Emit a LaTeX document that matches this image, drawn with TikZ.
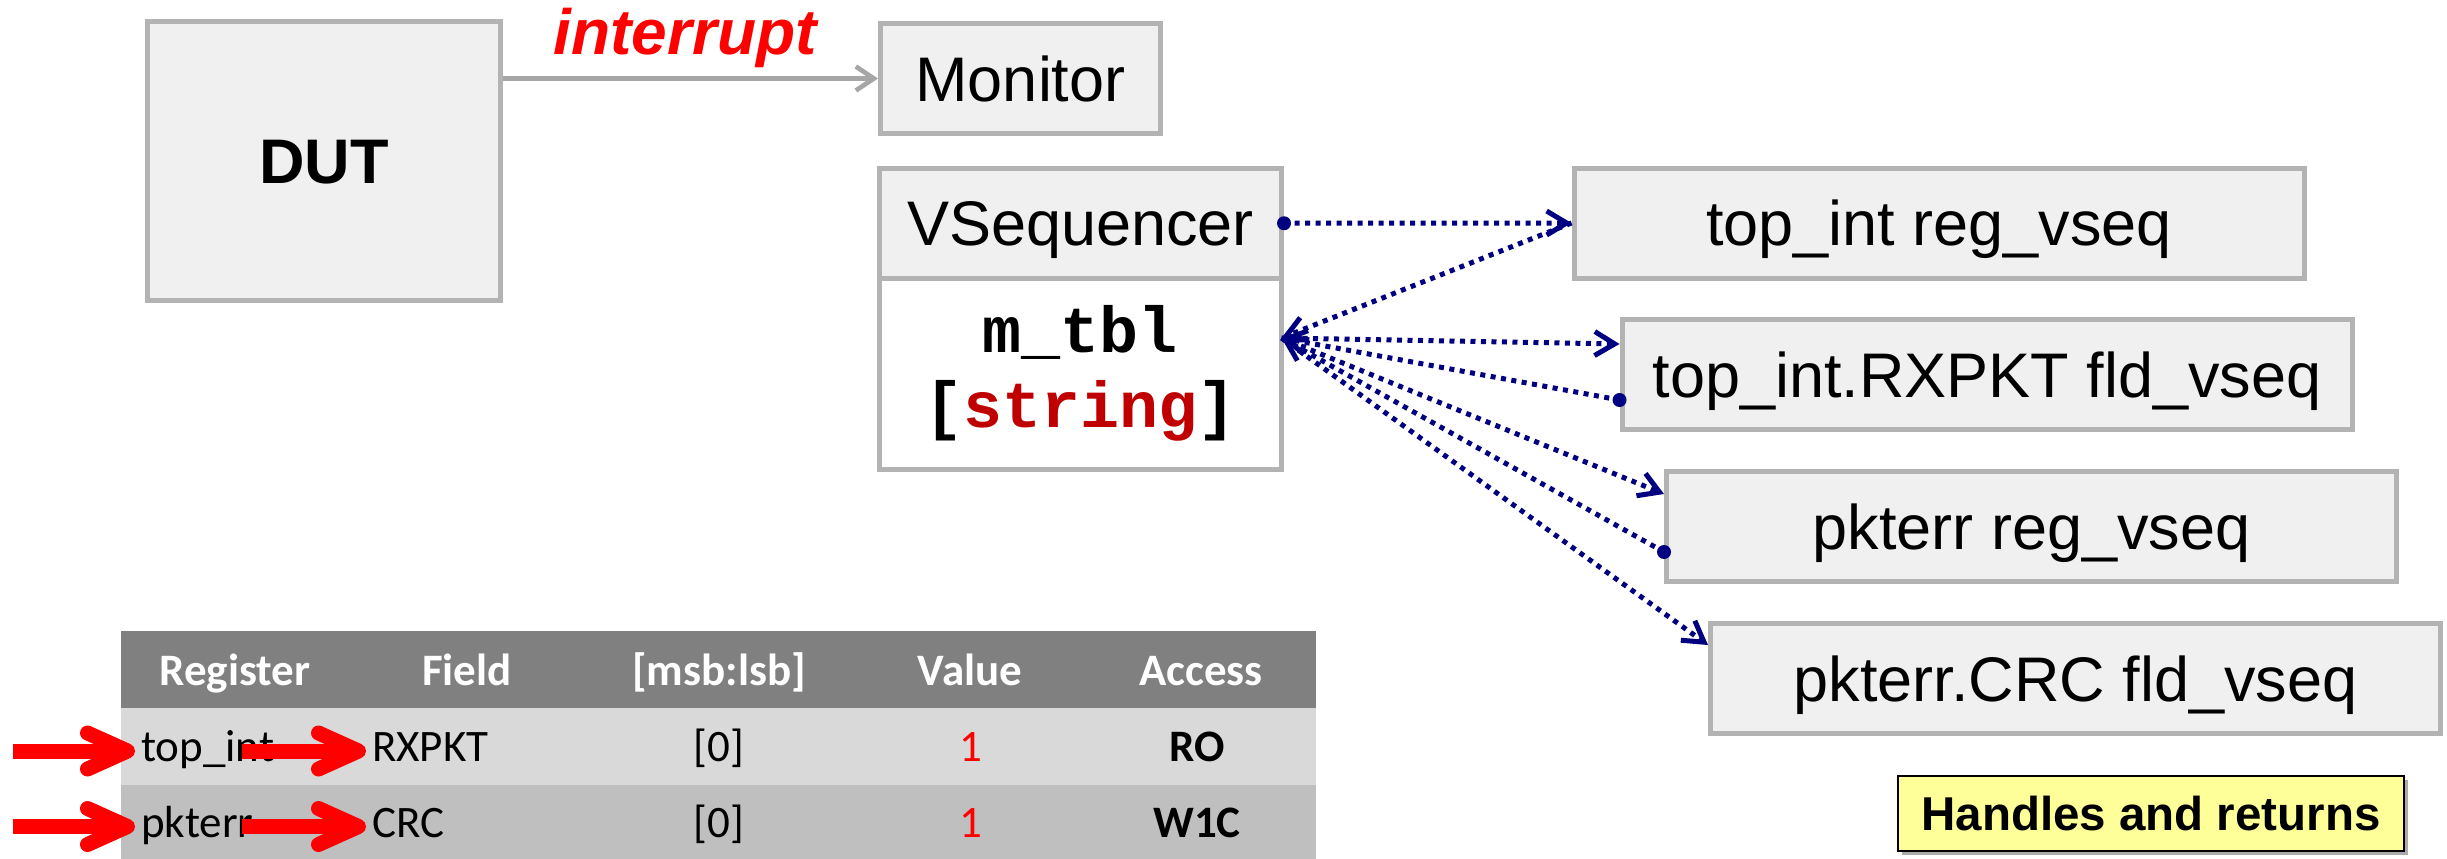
\documentclass[tikz,border=0pt]{standalone}
\usepackage{fontspec}
\setmainfont{Liberation Sans}
\newfontfamily\tablefont{Carlito}
\newfontfamily\codefont{Liberation Mono}
\usetikzlibrary{arrows.meta,calc,shadows}

\definecolor{boxgray}{HTML}{B3B3B3}
\definecolor{boxfill}{HTML}{F0F0F0}
\definecolor{navy}{HTML}{000080}
\definecolor{arrowgray}{HTML}{A6A6A6}
\definecolor{hdrgray}{HTML}{808080}
\definecolor{rowlight}{HTML}{D9D9D9}
\definecolor{rowdark}{HTML}{BFBFBF}
\definecolor{strred}{HTML}{C00000}
\definecolor{noteyellow}{HTML}{FFFF99}

\begin{document}
\begin{tikzpicture}[x=1pt, y=-1pt,
  blk/.style={draw=boxgray, line width=5pt, fill=boxfill, inner sep=0pt,
              text height=45pt, text depth=0pt},
  big/.style={font=\fontsize{63}{75}\selectfont},
  seqbox/.style={blk, big, minimum width=730pt, minimum height=110pt},
  call/.style={navy, line width=5pt, dash pattern=on 5pt off 5.5pt,
               -{Straight Barb[length=20pt, width=24pt]}},
  dotmark/.style={fill=navy},
  th/.style={anchor=base, inner sep=0pt, text=white,
             font=\tablefont\bfseries\fontsize{45}{54}\selectfont},
  tdl/.style={anchor=base west, inner xsep=6pt, inner ysep=0pt,
              font=\tablefont\fontsize{45}{54}\selectfont},
  tdc/.style={anchor=base, inner sep=0pt,
              font=\tablefont\fontsize{45}{54}\selectfont},
  redarrow/.style={red, line width=15pt,
                   -{Straight Barb[round, length=40pt, width=36pt]}}
]
\useasboundingbox (0,0) rectangle (2447,859);

% design under test and monitor
\node[blk, minimum width=353pt, minimum height=279pt,
      font=\fontsize{63}{75}\selectfont\bfseries] (dut) at (324,161) {DUT};
\node[blk, big, minimum width=280pt, minimum height=110pt] (mon) at (1020.5,78.5) {Monitor};
\draw[arrowgray, line width=4.6pt, -{Straight Barb[length=18pt, width=24pt]}]
  (dut.east |- mon.west) -- (mon.west);
\node[anchor=base, inner sep=0pt, text=red,
      font=\fontsize{64}{77}\selectfont\bfseries\itshape] (intr) at (685,55) {interrupt};

% virtual sequencer with its lookup table
\node[draw=boxgray, line width=5pt, fill=white, minimum width=402pt, minimum height=191.5pt,
      align=center, font=\fontsize{65}{75}\selectfont\codefont\bfseries] (mtbl)
      at (1080.5,373.75) {m\_tbl\\{[}\textcolor{strred}{string}]};
\node[blk, big, minimum width=402pt, minimum height=109.5pt] (vseq) at (1080.5,223.25) {VSequencer};

% register and field sequences
\node[seqbox] (b1) at (1939,223)     {top\_int reg\_vseq};
\node[seqbox] (b2) at (1987,374.5)   {top\_int.RXPKT fld\_vseq};
\node[seqbox] (b3) at (2031.5,526.5) {pkterr reg\_vseq};
\node[seqbox] (b4) at (2075.5,678.5) {pkterr.CRC fld\_vseq};

% handle lookups and returns
\coordinate (mt) at (1281.5,338);
\coordinate (b2in)  at ($(b2.north west)+(0,27)$);
\coordinate (b2out) at ($(b2.north west)+(0,83)$);
\coordinate (b3in)  at ($(b3.north west)+(0,25)$);
\coordinate (b3out) at ($(b3.north west)+(0,83)$);
\coordinate (b4in)  at ($(b4.north west)+(0,24)$);

\draw[call] (vseq.east) -- (b1.west);
\draw[call] (b1.west) -- (mt);
\draw[call] (mt) -- (b2in);
\draw[call] (b2out) -- (mt);
\draw[call] (mt) -- (b3in);
\draw[call] (b3out) -- (mt);
\draw[call] (mt) -- (b4in);
\fill[dotmark] (vseq.east) circle (7pt);
\fill[dotmark] (b2out) circle (7pt);
\fill[dotmark] (b3out) circle (7pt);

% register table
\fill[hdrgray]  (121,631) rectangle (1316,708);
\fill[rowlight] (121,708) rectangle (1316,785);
\fill[rowdark]  (121,785) rectangle (1316,859);

\node[th] (hreg)  at (235,685)  {Register};
\node[th] (hfld)  at (467,685)  {Field};
\node[th] (hbits) at (719,685)  {[msb:lsb]};
\node[th] (hval)  at (970,685)  {Value};
\node[th] (hacc)  at (1201,685) {Access};

\node[tdl] (reg1) at (135,761) {top\_int};
\node[tdl] (fld1) at (366,761) {RXPKT};
\node[tdc] (bit1) at (719,761) {[0]};
\node[tdc, text=red] (val1) at (971,761) {1};
\node[tdc, font=\tablefont\bfseries\fontsize{45}{54}\selectfont] (acc1) at (1197,761) {RO};

\node[tdl] (reg2) at (135,837) {pkterr};
\node[tdl] (fld2) at (366,837) {CRC};
\node[tdc] (bit2) at (719,837) {[0]};
\node[tdc, text=red] (val2) at (971,837) {1};
\node[tdc, font=\tablefont\bfseries\fontsize{45}{54}\selectfont] (acc2) at (1197,837) {W1C};

% pointers into the table
\coordinate (ra1) at (13,751);
\coordinate (rb1) at (242,751);
\coordinate (ra2) at (13,826.5);
\coordinate (rb2) at (242,826.5);
\draw[redarrow] (ra1) -- (ra1 -| reg1.west);
\draw[redarrow] (rb1) -- (rb1 -| fld1.west);
\draw[redarrow] (ra2) -- (ra2 -| reg2.west);
\draw[redarrow] (rb2) -- (rb2 -| fld2.west);

% caption
\node[draw=black, line width=2pt, fill=noteyellow,
      drop shadow={shadow xshift=4pt, shadow yshift=-4pt, fill=black!55, opacity=0.6},
      minimum width=506pt, minimum height=75pt, inner sep=0pt,
      text height=34pt, text depth=0pt,
      font=\fontsize{47.5}{57}\selectfont\bfseries] (note) at (2151,813.5) {Handles and returns};
\end{tikzpicture}
\end{document}
